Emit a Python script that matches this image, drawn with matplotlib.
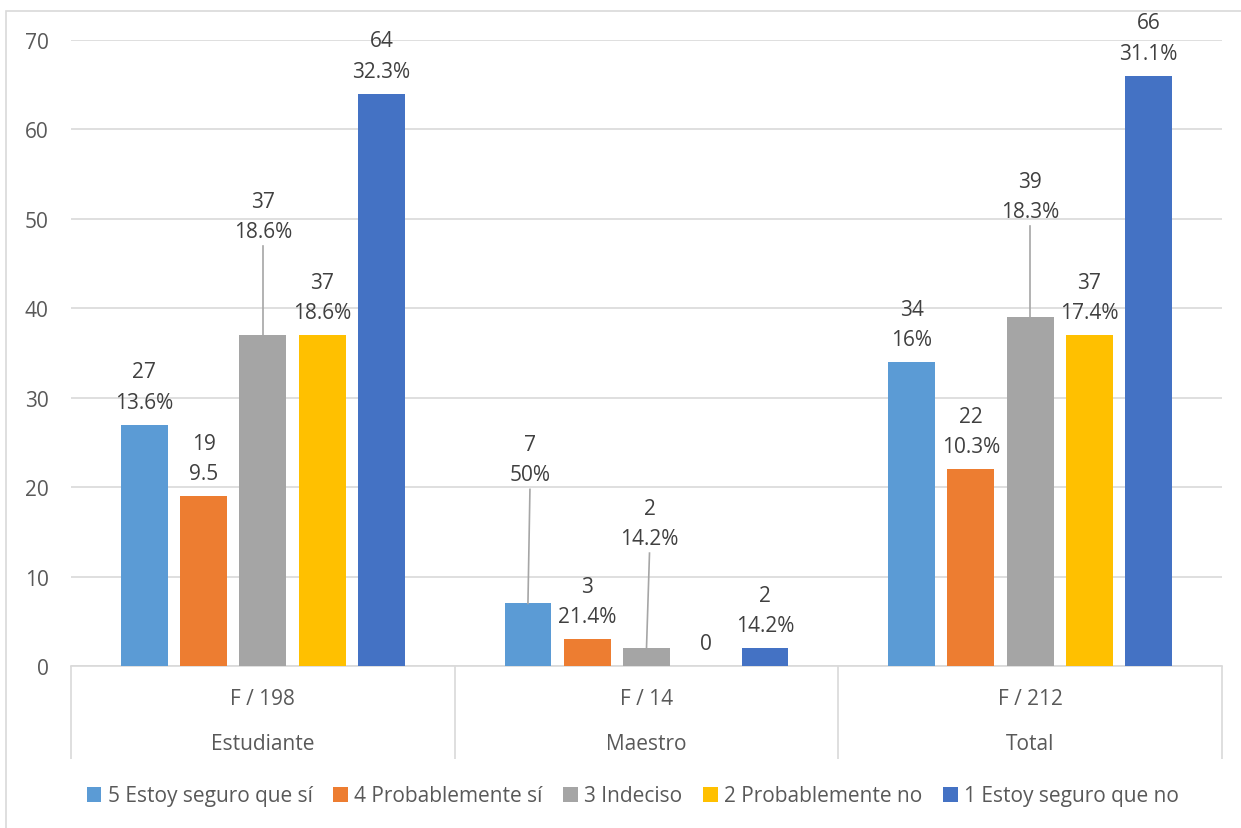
import numpy as np
import matplotlib.pyplot as plt
from matplotlib.patches import Rectangle

plt.rcParams["font.family"] = ["Open Sans", "DejaVu Sans"]

groups = ["Estudiante", "Maestro", "Total"]
group_n = ["F / 198", "F / 14", "F / 212"]
series = ["5 Estoy seguro que sí", "4 Probablemente sí", "3 Indeciso",
          "2 Probablemente no", "1 Estoy seguro que no"]
colors = ["#5b9bd5", "#ed7d31", "#a5a5a5", "#ffc000", "#4472c4"]

counts = [
    [27, 7, 34],
    [19, 3, 22],
    [37, 2, 39],
    [37, 0, 37],
    [64, 2, 66],
]
pcts = [
    ["13.6%", "50%", "16%"],
    ["9.5", "21.4%", "10.3%"],
    ["18.6%", "14.2%", "18.3%"],
    ["18.6%", "", "17.4%"],
    ["32.3%", "14.2%", "31.1%"],
]

# labels moved away from their bar (series, group) -> extra (dx, dy) in pixels
moved = {(2, 0): (0, 81), (0, 1): (2, 106), (2, 1): (3, 87), (2, 2): (0, 83)}

fs = 15
fig = plt.figure(figsize=(12.41, 8.29), dpi=100)
fig.patches.append(Rectangle((6 / 1241, -0.1), 1.2, 1 - 12 / 829 + 0.1,
                             transform=fig.transFigure, fill=False,
                             edgecolor="#d9d9d9", lw=1.2))
ax = fig.add_axes([71 / 1241, 1 - 667 / 829, 1151 / 1241, 626 / 829])
ax.set_xlim(-0.5, 2.5)
ax.set_ylim(0, 70)

x = np.arange(len(groups))
width = 0.122
step = 0.1545
txt = "#404040"
for i in range(len(series)):
    xs = x + (i - 2) * step
    ax.bar(xs, counts[i], width, color=colors[i], label=series[i], zorder=3)
    for j in range(len(groups)):
        val = counts[i][j]
        lab = str(val) if pcts[i][j] == "" else f"{val}\n{pcts[i][j]}"
        dx, dy = moved.get((i, j), (0, 0))
        ax.annotate(lab, (xs[j], val), xytext=(dx, 12 + dy),
                    textcoords="offset pixels", ha="center", va="bottom",
                    fontsize=fs, color=txt, linespacing=1.58,
                    annotation_clip=False)
        if dy:
            # leader line from label to bar top
            p0 = ax.transData.transform((xs[j], val))
            p1 = p0 + np.array([dx, dy + 8])
            inv = ax.transData.inverted()
            a, b = inv.transform(p0), inv.transform(p1)
            ax.plot([a[0], b[0]], [a[1], b[1]], color="#a6a6a6", lw=1.2,
                    zorder=4, clip_on=False)

ax.set_yticks(range(0, 71, 10))
ax.yaxis.grid(True, color="#d9d9d9", lw=1.2, zorder=0)
ax.set_xticks([])
for s in ["top", "right", "left"]:
    ax.spines[s].set_visible(False)
ax.spines["bottom"].set_color("#d9d9d9")
ax.spines["bottom"].set_linewidth(1.2)
ax.tick_params(axis="y", length=0, pad=16, labelsize=fs, labelcolor="#595959")

# category axis separators and two rows of labels
ax.vlines([-0.5, 0.5, 1.5, 2.5], -93 / 626, 0, transform=ax.get_xaxis_transform(),
          colors="#d9d9d9", lw=1.2, clip_on=False)
for j in range(len(groups)):
    ax.annotate(group_n[j], (x[j], 0), xycoords=ax.get_xaxis_transform(),
                xytext=(0, -33), textcoords="offset pixels", ha="center",
                va="center", fontsize=fs, color="#595959")
    ax.annotate(groups[j], (x[j], 0), xycoords=ax.get_xaxis_transform(),
                xytext=(0, -78), textcoords="offset pixels", ha="center",
                va="center", fontsize=fs, color="#595959")

leg = fig.legend(loc="center", bbox_to_anchor=(0.51, 32 / 829), ncol=5,
                 frameon=False, fontsize=fs, handlelength=0.7,
                 handleheight=0.7, handletextpad=0.3, columnspacing=1.0)
for t in leg.get_texts():
    t.set_color("#595959")

fig.savefig("out.png", dpi=100)
